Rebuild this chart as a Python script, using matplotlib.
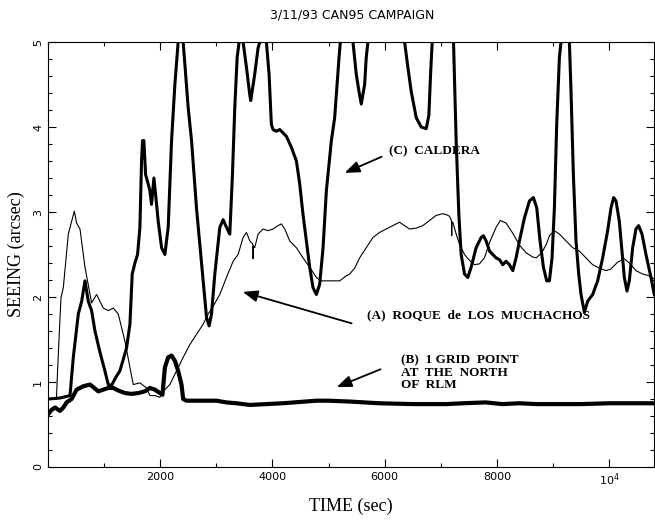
import matplotlib
matplotlib.use("Agg")
import matplotlib.pyplot as plt
from matplotlib.ticker import MultipleLocator, FixedLocator, FixedFormatter

# (A) Roque de los Muchachos - thin line
roque_t = [0, 150, 175, 231, 273, 362, 421, 469, 510, 570, 659, 777, 866, 985, 1074,
           1163, 1252, 1371, 1519, 1638, 1756, 1816, 1905, 1994, 2053, 2172, 2290,
           2409, 2528, 2646, 2765, 2854, 2943, 3062, 3180, 3299, 3388, 3477, 3537,
           3596, 3625, 3650, 3655, 3660, 3684, 3744, 3833, 3922, 4011, 4100, 4160,
           4219, 4308, 4427, 4545, 4664, 4783, 4872, 5020, 5198, 5316, 5376, 5465,
           5554, 5672, 5791, 5910, 6028, 6147, 6265, 6354, 6443, 6562, 6680, 6800,
           6918, 7036, 7096, 7155, 7190, 7195, 7200, 7215, 7274, 7334, 7423, 7512,
           7600, 7690, 7778, 7868, 7986, 8060, 8164, 8283, 8402, 8520, 8640, 8700,
           8800, 8880, 8936, 9025, 9114, 9232, 9351, 9470, 9588, 9707, 9826, 9944,
           10034, 10152, 10271, 10360, 10479, 10598, 10717, 10805]
roque_s = [0.80, 0.80, 1.20, 1.99, 2.11, 2.74, 2.89, 3.01, 2.87, 2.80, 2.35, 1.93, 2.03,
           1.87, 1.84, 1.87, 1.80, 1.48, 0.97, 0.99, 0.93, 0.84, 0.84, 0.82, 0.89,
           0.97, 1.13, 1.29, 1.44, 1.56, 1.68, 1.80, 1.89, 2.03, 2.23, 2.42, 2.50,
           2.70, 2.76, 2.66, 2.64, 2.62, 2.45, 2.60, 2.58, 2.74, 2.80, 2.78, 2.80,
           2.84, 2.86, 2.80, 2.66, 2.58, 2.46, 2.35, 2.23, 2.19, 2.19, 2.19, 2.25,
           2.27, 2.34, 2.46, 2.58, 2.70, 2.76, 2.80, 2.84, 2.88, 2.84, 2.80, 2.81,
           2.84, 2.90, 2.96, 2.98, 2.97, 2.95, 2.90, 2.72, 2.88, 2.88, 2.74, 2.62,
           2.50, 2.43, 2.38, 2.39, 2.46, 2.64, 2.82, 2.90, 2.87, 2.75, 2.61, 2.52,
           2.47, 2.46, 2.52, 2.62, 2.72, 2.78, 2.74, 2.66, 2.58, 2.54, 2.46, 2.38,
           2.34, 2.31, 2.33, 2.41, 2.45, 2.40, 2.31, 2.27, 2.25, 2.21]

# (B) 1 grid point at the north of RLM - thickest line
grid_t = [0, 60, 125, 214, 273, 332, 421, 510, 629, 748, 807, 896, 985, 1074, 1163,
          1252, 1371, 1489, 1608, 1727, 1816, 1905, 1994, 2040, 2083, 2142, 2202,
          2261, 2320, 2379, 2409, 2468, 2706, 3003, 3180, 3358, 3596, 4189, 4783,
          5000, 5376, 5900, 6500, 7100, 7400, 7800, 8100, 8400, 8700, 9000, 9500,
          10000, 10805]
grid_s = [0.62, 0.67, 0.70, 0.66, 0.70, 0.76, 0.80, 0.91, 0.95, 0.97, 0.94, 0.89,
          0.91, 0.93, 0.93, 0.90, 0.87, 0.86, 0.87, 0.89, 0.93, 0.91, 0.87, 0.85,
          1.17, 1.29, 1.31, 1.25, 1.13, 0.97, 0.80, 0.78, 0.78, 0.78, 0.76, 0.75,
          0.73, 0.75, 0.78, 0.78, 0.77, 0.75, 0.74, 0.74, 0.75, 0.76, 0.74, 0.75,
          0.74, 0.74, 0.74, 0.75, 0.75]

# (C) Caldera - thick line (values above 5 run off the top of the frame)
caldera_t = [0, 200, 332, 392, 451, 540, 600, 659, 718, 777, 837, 926, 1014, 1074,
             1133, 1204, 1281, 1400, 1460, 1501, 1549, 1596, 1638, 1667, 1685, 1709,
             1739, 1786, 1816, 1845, 1887, 1923, 1964, 2024, 2083, 2142, 2202, 2261,
             2320, 2365, 2409, 2498, 2558, 2646, 2765, 2825, 2872, 2914, 2973, 3062,
             3121, 3180, 3240, 3287, 3329, 3371, 3406, 3440, 3477, 3537, 3596, 3613,
             3684, 3744, 3774, 3833, 3892, 3940, 3981, 4011, 4070, 4130, 4189, 4249,
             4338, 4427, 4486, 4545, 4605, 4664, 4723, 4783, 4842, 4902, 4961, 5050,
             5109, 5151, 5187, 5210, 5320, 5435, 5494, 5542, 5583, 5643, 5672, 5702,
             6030, 6355, 6414, 6473, 6562, 6651, 6740, 6788, 6818, 6847, 7030, 7227,
             7274, 7322, 7363, 7423, 7482, 7541, 7630, 7719, 7761, 7808, 7868, 7927,
             7986, 8046, 8105, 8164, 8224, 8283, 8342, 8402, 8491, 8580, 8651, 8710,
             8769, 8829, 8888, 8936, 8983, 9025, 9066, 9114, 9143, 9215, 9292, 9321,
             9363, 9410, 9458, 9499, 9559, 9618, 9707, 9796, 9885, 9974, 10034, 10081,
             10123, 10182, 10230, 10271, 10319, 10360, 10420, 10479, 10526, 10586,
             10657, 10746, 10805]
caldera_s = [0.80, 0.81, 0.83, 0.84, 1.29, 1.80, 1.95, 2.19, 1.95, 1.84, 1.60, 1.35,
             1.13, 0.97, 0.96, 1.05, 1.13, 1.40, 1.68, 2.27, 2.40, 2.50, 2.82, 3.60,
             3.84, 3.84, 3.44, 3.33, 3.25, 3.09, 3.40, 3.17, 2.89, 2.58, 2.50, 2.82,
             3.84, 4.50, 5.00, 5.60, 5.00, 4.23, 3.84, 3.05, 2.19, 1.76, 1.66, 1.80,
             2.27, 2.82, 2.91, 2.82, 2.74, 3.44, 4.23, 4.82, 5.00, 5.50, 5.00, 4.70,
             4.38, 4.31, 4.62, 4.93, 5.00, 5.60, 5.00, 4.62, 4.03, 3.97, 3.95, 3.97,
             3.93, 3.89, 3.76, 3.60, 3.33, 2.97, 2.66, 2.35, 2.11, 2.03, 2.15, 2.58,
             3.25, 3.84, 4.11, 4.50, 4.82, 5.00, 5.60, 5.00, 4.62, 4.42, 4.27, 4.50,
             4.82, 5.00, 5.80, 5.00, 4.70, 4.42, 4.11, 4.00, 3.98, 4.14, 4.62, 5.00,
             5.80, 5.00, 3.84, 2.97, 2.50, 2.27, 2.23, 2.35, 2.58, 2.70, 2.72, 2.66,
             2.54, 2.50, 2.46, 2.44, 2.38, 2.42, 2.38, 2.31, 2.46, 2.66, 2.93, 3.13,
             3.17, 3.05, 2.66, 2.35, 2.19, 2.19, 2.46, 3.05, 4.03, 4.82, 5.00, 5.60,
             5.00, 4.42, 3.44, 2.66, 2.27, 2.03, 1.82, 1.95, 2.03, 2.19, 2.46, 2.78,
             3.05, 3.17, 3.13, 2.89, 2.54, 2.23, 2.07, 2.19, 2.58, 2.80, 2.84, 2.74,
             2.50, 2.23, 2.03]

xtick_pos = [2000, 4000, 6000, 8000, 10000]
xtick_txt = ["2000", "4000", "6000", "8000", r"10$^4$"]

fig = plt.figure(figsize=(6.55, 5.21), dpi=100)
ax = fig.add_axes([48 / 655, 54 / 521, 606 / 655, 425 / 521])

ax.plot(roque_t, roque_s, color="black", lw=0.8)
ax.plot(caldera_t, caldera_s, color="black", lw=2.2, solid_joinstyle="round")
ax.plot(grid_t, grid_s, color="black", lw=3.0, solid_joinstyle="round")

ax.set_xlim(0, 10800)
ax.set_ylim(0, 5)

ax.xaxis.set_major_locator(FixedLocator(xtick_pos))
ax.xaxis.set_major_formatter(FixedFormatter(xtick_txt))
ax.xaxis.set_minor_locator(MultipleLocator(1000))
ax.yaxis.set_major_locator(MultipleLocator(1))
ax.yaxis.set_minor_locator(MultipleLocator(0.2))
ax.tick_params(which="both", direction="in", top=True, right=True, width=0.8)
ax.tick_params(which="major", length=6, labelsize=8)
ax.tick_params(which="minor", length=3)
ax.tick_params(axis="y", labelrotation=90)
for lab in ax.get_yticklabels():
    lab.set_verticalalignment("center")
for sp in ax.spines.values():
    sp.set_linewidth(0.8)

ax.set_xlabel("TIME (sec)", family="Liberation Serif", fontsize=13, labelpad=7)
ax.set_ylabel("SEEING (arcsec)", family="Liberation Serif", fontsize=13, labelpad=6)
fig.text(352 / 655, 1 - 15 / 521, "3/11/93 CAN95 CAMPAIGN", ha="center", va="center",
         fontsize=9)

arrow = dict(arrowstyle="-|>,head_length=0.9,head_width=0.35", color="black", lw=1.3,
             shrinkA=0, shrinkB=0)
bold = dict(family="Liberation Serif", weight="bold", fontsize=9.5, va="center", ha="left")

ax.annotate("", xy=(5287, 3.46), xytext=(5945, 3.65), arrowprops=arrow)
ax.text(6070, 3.71, "(C)  CALDERA", **bold)

ax.annotate("", xy=(3471, 2.06), xytext=(5411, 1.69), arrowprops=arrow)
ax.text(5678, 1.79, "(A)  ROQUE  de  LOS  MUCHACHOS", **bold)

ax.annotate("", xy=(5144, 0.94), xytext=(5927, 1.15), arrowprops=arrow)
ax.text(6283, 1.11, "(B)  1 GRID  POINT\nAT  THE  NORTH\nOF  RLM", linespacing=1.05, **bold)

fig.savefig("out.png", dpi=100)
